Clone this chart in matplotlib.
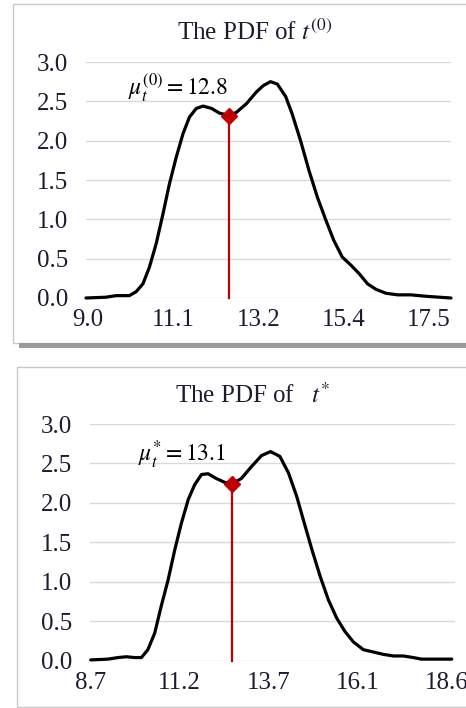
import matplotlib.pyplot as plt
from matplotlib.patches import Rectangle

plt.rcParams['font.family'] = ['Liberation Serif', 'DejaVu Serif']
plt.rcParams['mathtext.fontset'] = 'stix'

# PDF of t^(0)
x0 = [8.95, 9.45, 9.70, 10.03, 10.2, 10.37, 10.53, 10.7, 10.87, 11.03, 11.2, 11.37,
      11.53, 11.7, 11.87, 12.08, 12.28, 12.52, 12.7, 12.95, 13.2, 13.37, 13.55,
      13.72, 13.93, 14.09, 14.3, 14.51, 14.72, 14.93, 15.13, 15.34, 15.55, 15.76,
      15.97, 16.18, 16.43, 16.72, 17.05, 17.47, 18.05]
y0 = [0.0, 0.01, 0.03, 0.03, 0.08, 0.18, 0.39, 0.69, 1.07, 1.45, 1.79, 2.09,
      2.30, 2.41, 2.44, 2.41, 2.35, 2.32, 2.36, 2.47, 2.62, 2.70, 2.75,
      2.72, 2.56, 2.34, 2.00, 1.62, 1.28, 0.99, 0.73, 0.52, 0.42, 0.31,
      0.18, 0.11, 0.06, 0.04, 0.04, 0.02, 0.0]
mean0 = (12.52, 2.32)
xticks0 = [9.0, 11.125, 13.25, 15.375, 17.5]
xlabels0 = ['9.0', '11.1', '13.2', '15.4', '17.5']

# PDF of t*
x1 = [8.70, 9.18, 9.46, 9.69, 9.92, 10.11, 10.29, 10.48, 10.66, 10.85, 11.04, 11.22,
      11.41, 11.59, 11.78, 11.96, 12.19, 12.43, 12.63, 12.89, 13.17, 13.45, 13.70,
      13.96, 14.2, 14.43, 14.61, 14.85, 15.08, 15.31, 15.54, 15.77, 16.0, 16.28,
      16.56, 16.84, 17.12, 17.39, 17.67, 17.9, 18.74]
y1 = [0.01, 0.02, 0.04, 0.05, 0.04, 0.04, 0.14, 0.35, 0.69, 1.02, 1.41, 1.74,
      2.04, 2.23, 2.36, 2.37, 2.31, 2.26, 2.24, 2.31, 2.46, 2.60, 2.65,
      2.59, 2.38, 2.08, 1.79, 1.41, 1.07, 0.77, 0.54, 0.37, 0.24, 0.14,
      0.11, 0.08, 0.06, 0.06, 0.04, 0.02, 0.02]
mean1 = (12.63, 2.24)
xticks1 = [8.7, 11.175, 13.65, 16.125, 18.6]
xlabels1 = ['8.7', '11.2', '13.7', '16.1', '18.6']

yticks = [0.0, 0.5, 1.0, 1.5, 2.0, 2.5, 3.0]
txt_color = '#1c1c30'

fig = plt.figure(figsize=(4.66, 7.08), dpi=100)

# panel frames + shadow under the top one
fig.patches.append(Rectangle((0.0279, 0.5155), 1.0, 0.479, transform=fig.transFigure,
                             fc='white', ec='#c8c8c8', lw=1, zorder=-5))
fig.patches.append(Rectangle((0.041, 0.5085), 1.0, 0.0071, transform=fig.transFigure,
                             fc='#9a9a9a', ec='none', zorder=-5))
fig.patches.append(Rectangle((0.0365, 0.0014), 1.0, 0.480, transform=fig.transFigure,
                             fc='white', ec='#c8c8c8', lw=1, zorder=-5))

ax0 = fig.add_axes([0.1845, 0.5791, 0.7833, 0.3333])
ax1 = fig.add_axes([0.1931, 0.0668, 0.7833, 0.3343])


def draw(ax, x, y, mean, xticks, xlabels, xlim, note, note_xy):
    ax.set_facecolor('none')
    for v in yticks:
        ax.axhline(v, color='#d9d9d9', lw=1, zorder=1)
    ax.plot(x, y, color='black', lw=2.3, zorder=3, clip_on=False,
            solid_joinstyle='round', solid_capstyle='round')
    ax.plot([mean[0], mean[0]], [0, mean[1]], color='#c00000', lw=1.6, zorder=4, clip_on=False)
    ax.plot([mean[0]], [mean[1]], marker='D', ms=8, color='#c00000', zorder=5, clip_on=False)
    ax.set_xlim(*xlim)
    ax.set_ylim(0, 3.0)
    ax.set_xticks(xticks)
    ax.set_xticklabels(xlabels)
    ax.set_yticks(yticks)
    ax.set_yticklabels([f'{v:.1f}' for v in yticks])
    ax.tick_params(length=0, labelsize=18, colors=txt_color, pad=8)
    ax.tick_params(axis='y', pad=13)
    for s in ax.spines.values():
        s.set_visible(False)
    ax.text(note_xy[0], note_xy[1], note, fontsize=17, ha='left', va='baseline', zorder=6)


draw(ax0, x0, y0, mean0, xticks0, xlabels0, (8.95, 18.05),
     r'$\mu_t^{(0)}=12.8$', (10.0, 2.58))
draw(ax1, x1, y1, mean1, xticks1, xlabels1, (8.68, 18.83),
     r'$\mu_t^{*}=13.1$', (10.02, 2.52))

fig.text(0.546, 0.9435, r'The PDF of $t^{(0)}$', fontsize=18, color=txt_color,
         ha='center', va='baseline')
fig.text(0.543, 0.4308, r'The PDF of  $\ t^{*}$', fontsize=18, color=txt_color,
         ha='center', va='baseline')

fig.savefig('out.png', dpi=100)
